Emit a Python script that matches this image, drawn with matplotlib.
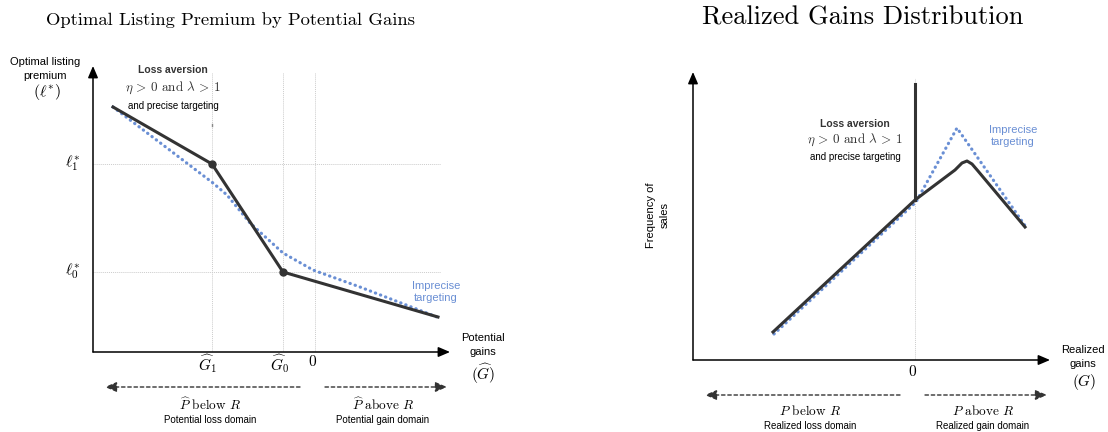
import matplotlib
matplotlib.use("Agg")
import matplotlib.pyplot as plt

plt.rcParams['mathtext.fontset'] = 'cm'
plt.rcParams['font.family'] = ['Liberation Sans', 'DejaVu Sans']

# ---------------- data (arbitrary schematic units) ----------------
# Left panel: optimal listing premium by potential gains
G1_hat = 119
G0_hat = 190
G_zero = 222
ell1 = 188
ell0 = 80
precise_x = [20, G1_hat, G0_hat, 345]
precise_y = [245, ell1, ell0, 35]
imprecise_x = [20, 74, 120, 134, 157, 190, 220, 267, 344]
imprecise_y = [245, 204, 169, 157, 129, 99, 82, 65, 35]

# Right panel: realized gains distribution
R_zero = 222
bunch_low, bunch_high = 160, 276
r_precise_x = [80, 222, 262, 269, 274, 279, 285, 332]
r_precise_y = [28, 160, 190, 197, 199, 196, 189, 133]
r_imprecise_x = [81, 223, 264, 333]
r_imprecise_y = [26, 158, 232, 133]

DARK = '#333333'
BLUE = '#6a8fd4'
GRID = '#cccccc'
W, H = 1108, 432
SERIF = 'cmr10'

fig = plt.figure(figsize=(W / 100, H / 100), dpi=100)

ETA_TXT = r'$\eta\,>\,0$ and $\lambda\,>\,1$'


def make_axes(px_left, px_top, px_right, px_bottom):
    ax = fig.add_axes([px_left / W, (H - px_bottom) / H,
                       (px_right - px_left) / W, (px_bottom - px_top) / H])
    ax.set_xlim(0, px_right - px_left)
    ax.set_ylim(0, px_bottom - px_top)
    ax.axis('off')
    return ax


def axis_arrows(ax):
    xmax = ax.get_xlim()[1]
    ymax = ax.get_ylim()[1]
    kw = dict(arrowstyle='-|>,head_length=0.7,head_width=0.3', color='black', lw=1.1,
              shrinkA=0, shrinkB=0)
    ax.annotate('', xy=(xmax, 0), xytext=(0, 0), arrowprops=kw, annotation_clip=False)
    ax.annotate('', xy=(0, ymax), xytext=(0, 0), arrowprops=kw, annotation_clip=False)


def domain_arrows(ax, y):
    kw = dict(arrowstyle='-|>,head_length=0.7,head_width=0.3', color=DARK, lw=1.0,
              linestyle=(0, (2.5, 2)), shrinkA=0, shrinkB=0)
    ax.annotate('', xy=(12, y), xytext=(207, y), arrowprops=kw, annotation_clip=False)
    ax.annotate('', xy=(354, y), xytext=(232, y), arrowprops=kw, annotation_clip=False)


DOT = dict(color=BLUE, lw=2.3, ls=(0, (0.1, 1.6)), dash_capstyle='round', zorder=3)

# ================= Left panel =================
axL = make_axes(93, 66, 450, 352)
for gx in [G1_hat, G0_hat, G_zero]:
    axL.plot([gx, gx], [0, 280], color=GRID, lw=0.7, ls=(0, (1, 1)), zorder=1)
for gy in [ell1, ell0]:
    axL.plot([0, 348], [gy, gy], color=GRID, lw=0.7, ls=(0, (1, 1)), zorder=1)
axL.plot([G1_hat, G1_hat], [226, 228], color='#888888', lw=1.0, zorder=1)

axL.plot(imprecise_x, imprecise_y, **DOT)
axL.plot(precise_x, precise_y, color=DARK, lw=2.2, zorder=4, solid_joinstyle='round')
axL.plot([G1_hat, G0_hat], [ell1, ell0], 'o', color=DARK, ms=5, zorder=5)
axis_arrows(axL)
domain_arrows(axL, -35)

axL.text(-48, 283, 'Optimal listing\npremium', ha='center', va='center', fontsize=8,
         linespacing=1.5, clip_on=False)
axL.text(-46, 260, r'$(\ell^{*})$', ha='center', va='center', fontsize=11.5, clip_on=False)
axL.text(-20, ell1 + 1, r'$\ell^{*}_{1}$', ha='center', va='center', fontsize=11.5, clip_on=False)
axL.text(-20, ell0 + 1, r'$\ell^{*}_{0}$', ha='center', va='center', fontsize=11.5, clip_on=False)
axL.text(G1_hat - 4, -12, r'$\widehat{G}_{1}$', ha='center', va='center', fontsize=11, clip_on=False)
axL.text(G0_hat - 3, -12, r'$\widehat{G}_{0}$', ha='center', va='center', fontsize=11, clip_on=False)
axL.text(G_zero - 2, -10, r'$0$', ha='center', va='center', fontsize=11, clip_on=False)
axL.text(80, 282, 'Loss aversion', ha='center', va='center', fontsize=7.5,
         fontweight='bold', color=DARK, clip_on=False)
axL.text(80, 264, ETA_TXT, ha='center', va='center', fontsize=9.5, color=DARK,
         family=SERIF, clip_on=False)
axL.text(80, 246, 'and precise targeting', ha='center', va='center', fontsize=7,
         color='black', clip_on=False)
axL.text(343, 60, 'Imprecise\ntargeting', ha='center', va='center', fontsize=8,
         color=BLUE, linespacing=1.2, clip_on=False)
axL.text(390, 7, 'Potential\ngains', ha='center', va='center', fontsize=8,
         linespacing=1.4, clip_on=False)
axL.text(390, -22, r'$(\widehat{G})$', ha='center', va='center', fontsize=11, clip_on=False)
axL.text(117, -53, r'$\widehat{P}$ below $R$', ha='center', va='center',
         fontsize=9.5, family=SERIF, clip_on=False)
axL.text(117, -68, 'Potential loss domain', ha='center', va='center', fontsize=7, clip_on=False)
axL.text(290, -53, r'$\widehat{P}$ above $R$', ha='center', va='center',
         fontsize=9.5, family=SERIF, clip_on=False)
axL.text(290, -68, 'Potential gain domain', ha='center', va='center', fontsize=7, clip_on=False)

fig.text(230 / W, 1 - 20 / H, 'Optimal Listing Premium by Potential Gains', ha='center',
         va='center', fontsize=13.4, family=SERIF)

# ================= Right panel =================
axR = make_axes(693, 72, 1050, 360)
axR.plot([R_zero, R_zero], [0, 282], color=GRID, lw=0.7, ls=(0, (1, 1)), zorder=1)
axR.plot(r_imprecise_x, r_imprecise_y, **DOT)
axR.plot(r_precise_x, r_precise_y, color=DARK, lw=2.2, zorder=4, solid_joinstyle='round')
axR.plot([R_zero, R_zero], [bunch_low, bunch_high], color=DARK, lw=2.2, zorder=4)
axis_arrows(axR)
domain_arrows(axR, -35)

axR.text(162, 236, 'Loss aversion', ha='center', va='center', fontsize=7.5,
         fontweight='bold', color=DARK, clip_on=False)
axR.text(162, 220, ETA_TXT, ha='center', va='center', fontsize=9.5, color=DARK,
         family=SERIF, clip_on=False)
axR.text(162, 203, 'and precise targeting', ha='center', va='center', fontsize=7,
         color='black', clip_on=False)
axR.text(320, 224, 'Imprecise\ntargeting', ha='center', va='center', fontsize=8,
         color=BLUE, linespacing=1.2, clip_on=False)
axR.text(-35, 145, 'Frequency of\nsales', ha='center', va='center', fontsize=8,
         rotation=90, linespacing=1.4, clip_on=False)
axR.text(390, 3, 'Realized\ngains', ha='center', va='center', fontsize=8,
         linespacing=1.4, clip_on=False)
axR.text(391, -22, r'$(G)$', ha='center', va='center', fontsize=11, clip_on=False)
axR.text(R_zero - 2, -12, r'$0$', ha='center', va='center', fontsize=11, clip_on=False)
axR.text(117, -51, r'$P$ below $R$', ha='center', va='center', fontsize=9.5,
         family=SERIF, clip_on=False)
axR.text(117, -66, 'Realized loss domain', ha='center', va='center', fontsize=7, clip_on=False)
axR.text(290, -51, r'$P$ above $R$', ha='center', va='center', fontsize=9.5,
         family=SERIF, clip_on=False)
axR.text(290, -66, 'Realized gain domain', ha='center', va='center', fontsize=7, clip_on=False)

fig.text(863 / W, 1 - 18 / H, 'Realized Gains Distribution', ha='center', va='center',
         fontsize=19, family=SERIF)

fig.savefig('out.png', dpi=100)
